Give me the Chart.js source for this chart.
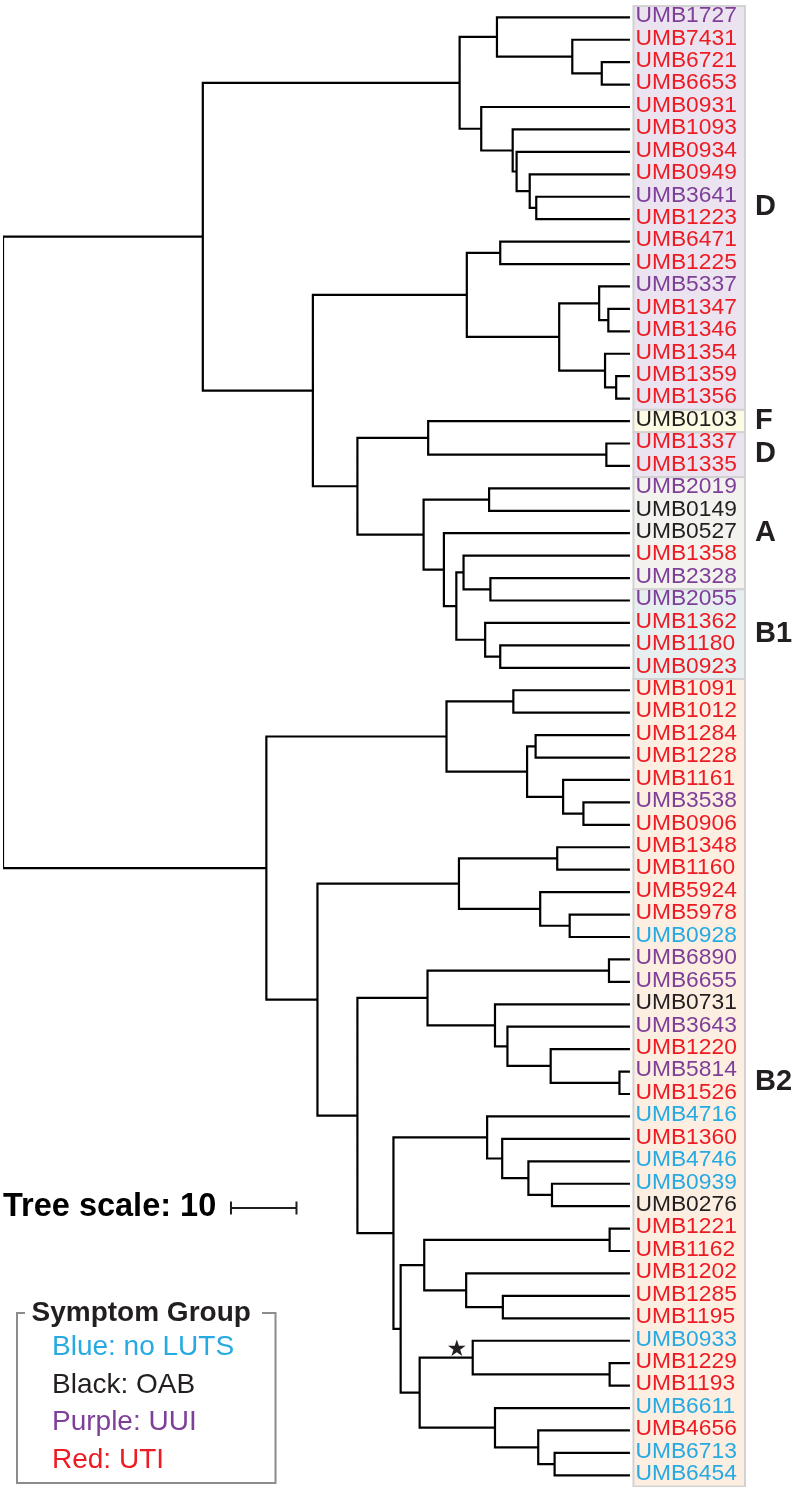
<!DOCTYPE html>
<html>
<head>
<meta charset="utf-8">
<script src="https://cdn.jsdelivr.net/npm/chart.js@4.4.0/dist/chart.umd.min.js"></script>
<style>
  html, body { margin: 0; padding: 0; background: #fff; }
  canvas { display: block; }
</style>
</head>
<body>
<canvas id="tree" width="797" height="1487"></canvas>
<script>
// Tips, top to bottom
const leafNames = [
  'UMB1727','UMB7431','UMB6721','UMB6653','UMB0931','UMB1093','UMB0934','UMB0949','UMB3641','UMB1223',
  'UMB6471','UMB1225','UMB5337','UMB1347','UMB1346','UMB1354','UMB1359','UMB1356','UMB0103','UMB1337',
  'UMB1335','UMB2019','UMB0149','UMB0527','UMB1358','UMB2328','UMB2055','UMB1362','UMB1180','UMB0923',
  'UMB1091','UMB1012','UMB1284','UMB1228','UMB1161','UMB3538','UMB0906','UMB1348','UMB1160','UMB5924',
  'UMB5978','UMB0928','UMB6890','UMB6655','UMB0731','UMB3643','UMB1220','UMB5814','UMB1526','UMB4716',
  'UMB1360','UMB4746','UMB0939','UMB0276','UMB1221','UMB1162','UMB1202','UMB1285','UMB1195','UMB0933',
  'UMB1229','UMB1193','UMB6611','UMB4656','UMB6713','UMB6454'
];
const leafSymptoms = [
  'UUI','UTI','UTI','UTI','UTI','UTI','UTI','UTI','UUI','UTI',
  'UTI','UTI','UUI','UTI','UTI','UTI','UTI','UTI','OAB','UTI',
  'UTI','UUI','OAB','OAB','UTI','UUI','UUI','UTI','UTI','UTI',
  'UTI','UTI','UTI','UTI','UTI','UUI','UTI','UTI','UTI','UTI',
  'UTI','noLUTS','UUI','UUI','OAB','UUI','UTI','UUI','UTI','noLUTS',
  'UTI','noLUTS','noLUTS','OAB','UTI','UTI','UTI','UTI','UTI','noLUTS',
  'UTI','UTI','noLUTS','UTI','noLUTS','noLUTS'
];

// Topology; internal labels = node depth from root (tree units), * marks the starred node
const treeNewick =
  "(" +
    "(" +
      "((UMB1727,(UMB7431,(UMB6721,UMB6653)91.4)86.9)75.4,(UMB0931,(UMB1093,(UMB0934,(UMB0949,(UMB3641,UMB1223)81.4)80.4)78.4)77.8)73.0)69.7," +
      "(((UMB6471,UMB1225)75.9,((UMB5337,(UMB1347,UMB1346)92.4)91.0,(UMB1354,(UMB1359,UMB1356)93.6)91.9)84.9)70.8," +
      "((UMB0103,(UMB1337,UMB1335)92.1)64.9,((UMB2019,UMB0149)74.2,(UMB0527,((UMB1358,(UMB2328,UMB2055)74.4)70.3,(UMB1362,(UMB1180,UMB0923)75.9)73.6)69.2)67.3)64.2)54.1)47.3" +
    ")30.5," +
    "(" +
      "((UMB1091,UMB1012)77.9,((UMB1284,UMB1228)81.3,(UMB1161,(UMB3538,UMB0906)88.6)85.5)80.0)67.7," +
      "(((UMB1348,UMB1160)84.6,(UMB5924,(UMB5978,UMB0928)86.5)82.0)69.6," +
      "(((UMB6890,UMB6655)92.5,(UMB0731,(UMB3643,(UMB1220,(UMB5814,UMB1526)94.1)83.6)77.0)75.1)64.8," +
      "((UMB4716,(UMB1360,(UMB4746,(UMB0939,UMB0276)83.8)80.2)76.2)73.9," +
      "(((UMB1221,UMB1162)92.6,(UMB1202,(UMB1285,UMB1195)76.3)70.7)64.3," +
      "((UMB0933,(UMB1229,UMB1193)92.6)71.7*,(UMB6611,(UMB4656,(UMB6713,UMB6454)84.2)81.7)75.1)63.6)60.7)59.6)54.1)48.0" +
    ")40.2" +
  ")0;";
const tipDepth = 95.7;

// Phylogroup blocks (tip index ranges)
const phyloNames = ['D', 'F', 'D', 'A', 'B1', 'B2'];
const phyloFirst = [0, 18, 19, 21, 26, 30];
const phyloLast  = [17, 18, 20, 25, 29, 65];

// Tree scale bar (tree units)
const scaleBarStart = 34.8;
const scaleBarLength = 10;

const legendTitle = 'Symptom Group';
const legendLabels = ['Blue: no LUTS', 'Black: OAB', 'Purple: UUI', 'Red: UTI'];
const legendGroups = ['noLUTS', 'OAB', 'UUI', 'UTI'];

// Styles
const symptomColors = { noLUTS: '#27aae1', OAB: '#231f20', UUI: '#7e3f98', UTI: '#ed1c24' };
const phyloFills = { D: '#ebe3ef', F: '#fdfbe3', A: '#f3f2ef', B1: '#e6eef0', B2: '#fdeee2' };
const SANS = '"Liberation Sans", Arial, sans-serif';

// --- parse the tree ---
function parseNewick(str) {
  let i = 0;
  const readLabel = () => {
    let s = '';
    while (i < str.length && !',();'.includes(str[i])) s += str[i++];
    return s;
  };
  const node = () => {
    if (str[i] === '(') {
      i++;
      const kids = [node()];
      while (str[i] === ',') { i++; kids.push(node()); }
      i++;
      const lab = readLabel();
      return { kids, depth: parseFloat(lab), star: lab.endsWith('*') };
    }
    const name = readLabel();
    return { name, depth: tipDepth, y: leafNames.indexOf(name) };
  };
  return node();
}

const root = parseNewick(treeNewick);
const internals = [];
(function place(n) {
  if (!n.kids) return;
  n.kids.forEach(place);
  n.y = (n.kids[0].y + n.kids[n.kids.length - 1].y) / 2;
  internals.push(n);
})(root);

// one polyline per internal node: first child -> node -> last child
const branchPoints = [];
internals.forEach(n => {
  const a = n.kids[0], b = n.kids[n.kids.length - 1];
  branchPoints.push(
    { x: a.depth, y: a.y }, { x: n.depth, y: a.y },
    { x: n.depth, y: b.y }, { x: b.depth, y: b.y },
    { x: n.depth, y: null }
  );
});
const starNode = internals.find(n => n.star);

function drawText(ctx, text, x, y, font, color, align = 'left') {
  ctx.save();
  ctx.font = font;
  ctx.fillStyle = color;
  ctx.textBaseline = 'alphabetic';
  ctx.textAlign = align;
  ctx.fillText(text, x, y);
  ctx.restore();
}

const treeDecor = {
  id: 'treeDecor',
  beforeDatasetsDraw(chart) {
    const { ctx, scales: { x, y } } = chart;
    const rowH = y.getPixelForValue(1) - y.getPixelForValue(0);
    const left = x.getPixelForValue(tipDepth) + 3.5;
    const right = 745;
    ctx.save();
    phyloNames.forEach((g, k) => {
      const top = y.getPixelForValue(phyloFirst[k]) - rowH / 2;
      const bot = y.getPixelForValue(phyloLast[k]) + rowH / 2;
      ctx.fillStyle = phyloFills[g];
      ctx.fillRect(left, top, right - left, bot - top);
      ctx.strokeStyle = '#d2d2d2';
      ctx.lineWidth = 2;
      ctx.strokeRect(left, top, right - left, bot - top);
    });
    ctx.restore();
  },
  afterDatasetsDraw(chart) {
    const { ctx, scales: { x, y } } = chart;
    const labelX = x.getPixelForValue(tipDepth) + 5.5;

    leafNames.forEach((name, i) => {
      drawText(ctx, name, labelX, y.getPixelForValue(i) + 4.8,
        '22.8px ' + SANS, symptomColors[leafSymptoms[i]]);
    });

    phyloNames.forEach((g, k) => {
      const cy = (y.getPixelForValue(phyloFirst[k]) + y.getPixelForValue(phyloLast[k])) / 2;
      drawText(ctx, g, 755, cy + 7.5, 'bold 29px ' + SANS, '#231f20');
    });

    // star on the marked clade
    if (starNode) {
      drawText(ctx, '\u2605', x.getPixelForValue(starNode.depth) - 16, y.getPixelForValue(starNode.kids[0].y) + 15,
        '23px "DejaVu Sans", sans-serif', '#231f20', 'center');
    }

    // tree scale
    drawText(ctx, 'Tree scale: 10', 3, 1216, 'bold 32.5px ' + SANS, '#000');
    const x0 = x.getPixelForValue(scaleBarStart);
    const x1 = x.getPixelForValue(scaleBarStart + scaleBarLength);
    const sy = 1208;
    ctx.save();
    ctx.strokeStyle = '#231f20';
    ctx.lineWidth = 2;
    ctx.beginPath();
    ctx.moveTo(x0, sy); ctx.lineTo(x1, sy);
    ctx.moveTo(x0, sy - 6.5); ctx.lineTo(x0, sy + 6.5);
    ctx.moveTo(x1, sy - 6.5); ctx.lineTo(x1, sy + 6.5);
    ctx.stroke();

    // legend frame
    ctx.strokeStyle = '#8c8c8c';
    ctx.lineWidth = 2;
    ctx.beginPath();
    ctx.moveTo(25, 1313); ctx.lineTo(17, 1313); ctx.lineTo(17, 1483);
    ctx.lineTo(275.5, 1483); ctx.lineTo(275.5, 1313); ctx.lineTo(262, 1313);
    ctx.stroke();
    ctx.restore();

    drawText(ctx, legendTitle, 31.5, 1321, 'bold 28px ' + SANS, '#231f20');
    legendLabels.forEach((t, k) => {
      drawText(ctx, t, 52, 1355 + k * 37.5, '28px ' + SANS, symptomColors[legendGroups[k]]);
    });
  }
};

new Chart(document.getElementById('tree'), {
  type: 'scatter',
  data: {
    datasets: [{
      data: branchPoints,
      showLine: true,
      spanGaps: false,
      borderColor: '#000',
      borderWidth: 2.2,
      borderJoinStyle: 'miter',
      borderCapStyle: 'butt',
      pointRadius: 0,
      pointHoverRadius: 0,
      tension: 0
    }]
  },
  options: {
    responsive: false,
    animation: false,
    devicePixelRatio: 1,
    layout: { padding: { left: 3, right: 0, top: 0, bottom: 0 } },
    plugins: { legend: { display: false }, tooltip: { enabled: false } },
    scales: {
      x: { type: 'linear', min: 0, max: 121.2, display: false },
      y: { type: 'linear', min: -0.771, max: 65.52, reverse: true, display: false }
    }
  },
  plugins: [treeDecor]
});
</script>
</body>
</html>
